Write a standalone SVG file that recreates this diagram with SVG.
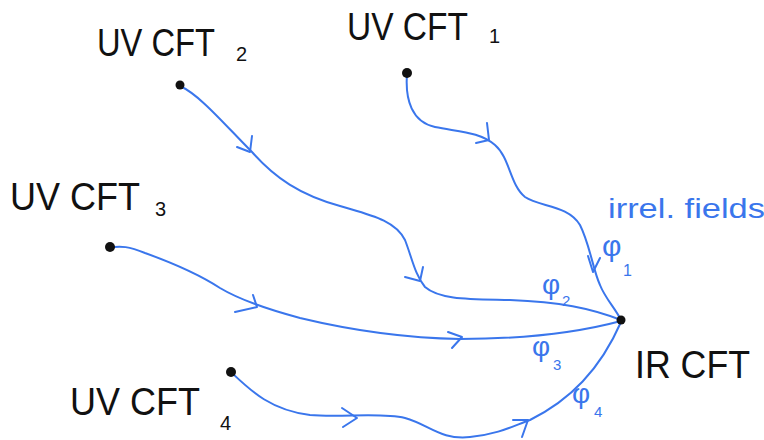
<svg xmlns="http://www.w3.org/2000/svg" width="764" height="440" viewBox="0 0 764 440">
<style>
.flow{fill:none;stroke:#3a76ec;stroke-width:2;stroke-linecap:round;stroke-linejoin:round}
.lbl{font-family:"Liberation Sans",Arial,sans-serif;fill:#111}
.sub{font-family:"Liberation Sans",Arial,sans-serif;fill:#111;font-size:20px}
.phi{font-family:"Liberation Sans",Arial,sans-serif;fill:#3a76ec}
.dot{fill:#111}
</style>
<rect width="764" height="440" fill="#fff"/>
<g id="connectors">
<path class="flow" d="M407,74 C405,100 412,122 435,127 C460,132 480,132 495,145 C510,158 510,185 525,197 C540,207 568,205 580,225 C590,245 593,270 600,285 C605,298 615,308 621,320"/>
<path class="flow" d="M489,140 L487,123 M489,140 L476,143"/>
<path class="flow" d="M593,272 L588,256 M593,272 L600,258"/>
<path class="flow" d="M180,86 C200,95 225,125 252,152 C275,178 300,195 340,206 C370,215 395,220 405,240 C412,258 415,275 425,287 C440,300 470,299 510,300 C560,302 590,308 621,320"/>
<path class="flow" d="M250,152 L252,136 M250,152 L237,147"/>
<path class="flow" d="M420,281 L423,267 M420,281 L405,277"/>
<path class="flow" d="M110,248 C120,245 130,247 145,253 C170,262 200,275 220,288 C240,300 270,310 300,318 C350,330 400,338 460,339 C530,339 580,332 621,321"/>
<path class="flow" d="M257,307 L253,295 M257,307 L235,312"/>
<path class="flow" d="M462,337 L448,332 M462,337 L452,348"/>
<path class="flow" d="M232,373 C250,390 270,410 310,415 C340,418 380,412 405,418 C430,425 440,440 470,437 C500,434 515,425 530,420 C570,400 600,370 621,322"/>
<path class="flow" d="M357,418 L342,408 M357,418 L343,427"/>
<path class="flow" d="M528,420 L513,420 M528,420 L522,437"/>
</g>
<g id="uv1">
<circle class="dot" cx="407" cy="73" r="5"/>
<text class="lbl" x="347" y="40" font-size="38" textLength="121" lengthAdjust="spacingAndGlyphs">UV CFT</text>
<text class="sub" x="489" y="43">1</text>
</g>
<g id="uv2">
<circle class="dot" cx="180" cy="85" r="4.5"/>
<text class="lbl" x="97" y="56" font-size="38" textLength="118" lengthAdjust="spacingAndGlyphs">UV CFT</text>
<text class="sub" x="236" y="61">2</text>
</g>
<g id="uv3">
<circle class="dot" cx="110" cy="247" r="5"/>
<text class="lbl" x="10" y="210" font-size="38" textLength="130" lengthAdjust="spacingAndGlyphs">UV CFT</text>
<text class="sub" x="155" y="216">3</text>
</g>
<g id="uv4">
<circle class="dot" cx="231" cy="372" r="5"/>
<text class="lbl" x="70" y="415" font-size="38" textLength="130" lengthAdjust="spacingAndGlyphs">UV CFT</text>
<text class="sub" x="220" y="430">4</text>
</g>
<g id="ir">
<circle class="dot" cx="621" cy="320" r="4.5"/>
<text class="lbl" x="635" y="378" font-size="38" textLength="115" lengthAdjust="spacingAndGlyphs">IR CFT</text>
</g>
<g id="labels">
<text class="phi" x="608" y="218" font-size="27" textLength="157" lengthAdjust="spacingAndGlyphs">irrel. fields</text>
<text class="phi" x="602" y="256" font-size="30">φ</text>
<text class="phi" x="623" y="276" font-size="16">1</text>
<text class="phi" x="542" y="294" font-size="28">φ</text>
<text class="phi" x="562" y="306" font-size="15">2</text>
<text class="phi" x="532" y="356" font-size="28">φ</text>
<text class="phi" x="553" y="370" font-size="15">3</text>
<text class="phi" x="572" y="403" font-size="28">φ</text>
<text class="phi" x="594" y="417" font-size="15">4</text>
</g>
</svg>
